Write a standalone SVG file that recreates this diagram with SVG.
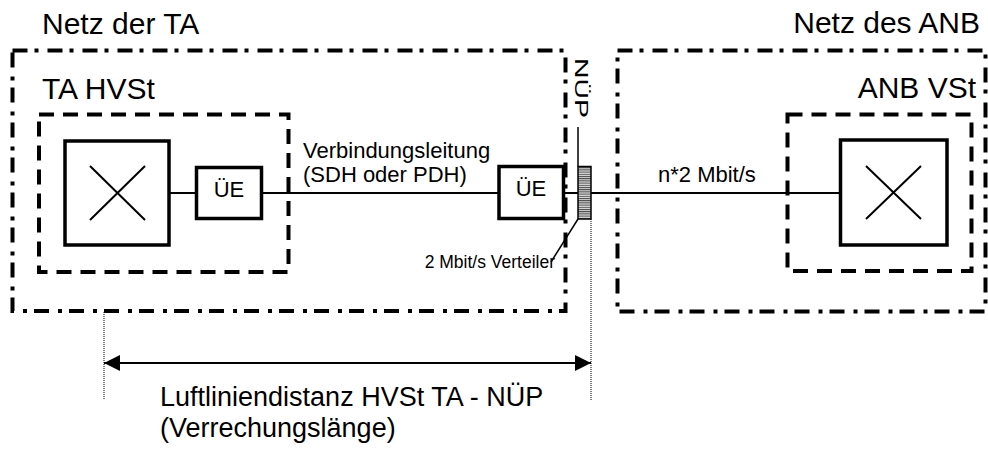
<svg xmlns="http://www.w3.org/2000/svg" width="988" height="450" viewBox="0 0 988 450">
<style>
text{font-family:"Liberation Sans",Arial,sans-serif;fill:#000}
.net{fill:none;stroke:#000;stroke-width:4;stroke-dasharray:15 7 4 9}
.vst{fill:none;stroke:#000;stroke-width:4;stroke-dasharray:15 9}
.box{fill:#fff;stroke:#000;stroke-width:3.5}
.thin{stroke:#000;stroke-width:2;fill:none}
.dot{stroke:#000;stroke-width:1;stroke-dasharray:1 1;fill:none}
.big{font-size:30px}
.mid{font-size:22px}
</style>
<defs>
<pattern id="hatch" width="4" height="2.2" patternUnits="userSpaceOnUse">
<rect width="4" height="2.2" fill="#ddd"/>
<rect width="4" height="1" fill="#444"/>
</pattern>
<marker id="ah" viewBox="0 0 16 16" refX="16" refY="8" markerWidth="16" markerHeight="16" markerUnits="userSpaceOnUse" orient="auto-start-reverse">
<path d="M0,0 L16,8 L0,16 Z" fill="#000"/>
</marker>
</defs>

<g id="netz-ta">
<rect class="net" x="12.5" y="50.5" width="553" height="260.5"/>
<text class="big" x="42" y="34">Netz der TA</text>
</g>
<g id="netz-anb">
<rect class="net" x="617.5" y="50.5" width="368" height="261"/>
<text class="big" x="980" y="33" text-anchor="end">Netz des ANB</text>
</g>
<g id="ta-hvst">
<rect class="vst" x="39" y="114.5" width="249.5" height="157.5"/>
<text class="big" x="42" y="99">TA HVSt</text>
</g>
<g id="anb-vst">
<rect class="vst" x="787.5" y="114.5" width="184" height="156.5"/>
<text class="big" x="976" y="98" text-anchor="end">ANB VSt</text>
</g>

<g id="connectors">
<line class="thin" x1="169" y1="193" x2="196.5" y2="193"/>
<line class="thin" x1="261.5" y1="193" x2="499" y2="193"/>
<line class="thin" x1="563.5" y1="193" x2="578" y2="193"/>
<line class="thin" x1="591" y1="193" x2="840.5" y2="193"/>
<line stroke="#000" stroke-width="1.5" x1="578" y1="127" x2="578" y2="167"/>
<line stroke="#000" stroke-width="1.5" x1="578" y1="219" x2="551" y2="262"/>
<line class="dot" x1="104" y1="312" x2="104" y2="400"/>
<line class="dot" x1="591" y1="219" x2="591" y2="400"/>
<line stroke="#000" stroke-width="2" x1="104" y1="363" x2="591" y2="363" marker-start="url(#ah)" marker-end="url(#ah)"/>
</g>

<g id="switch-ta">
<rect class="box" x="65" y="141" width="104" height="104"/>
<path class="thin" d="M90,166 L145,220 M145,166 L90,220"/>
</g>
<g id="ue-ta">
<rect class="box" x="196.5" y="167.5" width="65" height="51"/>
<text class="mid" x="229" y="197" text-anchor="middle">ÜE</text>
</g>
<g id="ue-nuep">
<rect class="box" x="499" y="166.5" width="64.5" height="52"/>
<text class="mid" x="531" y="196" text-anchor="middle">ÜE</text>
</g>
<g id="verteiler">
<rect x="578" y="166.5" width="13" height="52.5" fill="url(#hatch)" stroke="#000" stroke-width="1.5"/>
<text x="555" y="268" font-size="17.5" text-anchor="end">2 Mbit/s Verteiler</text>
</g>
<g id="nuep">
<text transform="translate(575,58) rotate(90)" font-size="19" textLength="60" lengthAdjust="spacingAndGlyphs">NÜP</text>
</g>
<g id="switch-anb">
<rect class="box" x="840.5" y="140" width="106.5" height="105"/>
<path class="thin" d="M866,166 L921,219 M921,166 L866,219"/>
</g>

<g id="labels">
<text class="mid" x="303" y="158">Verbindungsleitung</text>
<text class="mid" x="303" y="182">(SDH oder PDH)</text>
<text class="mid" x="658" y="182">n*2 Mbit/s</text>
<text x="160" y="406" font-size="27">Luftliniendistanz HVSt TA - NÜP</text>
<text x="160" y="437" font-size="27">(Verrechungslänge)</text>
</g>
</svg>
